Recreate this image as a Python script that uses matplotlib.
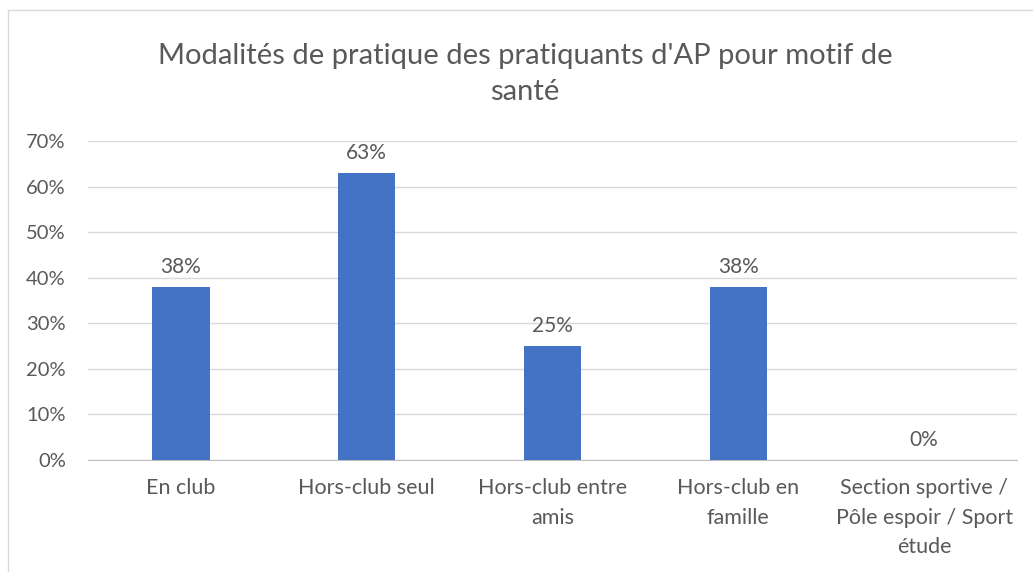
import matplotlib.pyplot as plt
from matplotlib.patches import Rectangle
from matplotlib.ticker import PercentFormatter

categories = ["En club", "Hors-club seul", "Hors-club entre\namis", "Hors-club en\nfamille",
              "Section sportive /\nPôle espoir / Sport\nétude"]
values = [38, 63, 25, 38, 0]
yticks = [0, 10, 20, 30, 40, 50, 60, 70]

plt.rcParams['font.family'] = ['Lato', 'DejaVu Sans']
txt = '#595959'

fig = plt.figure(figsize=(10.33, 5.72), dpi=100)
ax = fig.add_axes([88 / 1033, 1 - 460 / 572, (1017 - 88) / 1033, (460 - 141) / 572])

x = range(len(categories))
ax.bar(x, values, width=0.31, color='#4472C4', zorder=3)
for i, v in zip(x, values):
    ax.annotate(f"{v}%", (i, v), xytext=(0, 7), textcoords='offset points',
                ha='center', va='bottom', fontsize=15, color=txt)

ax.set_xlim(-0.5, len(categories) - 0.5)
ax.set_ylim(0, 70)
ax.set_yticks(yticks)
ax.yaxis.set_major_formatter(PercentFormatter(decimals=0))
ax.set_xticks(list(x))
ax.set_xticklabels(categories, fontsize=15.5, color=txt, linespacing=1.6)
ax.tick_params(axis='y', labelsize=14.5, labelcolor=txt, length=0, pad=16)
ax.tick_params(axis='x', length=0, pad=13)
ax.grid(axis='y', color='#D9D9D9', linewidth=1, zorder=0)
for s in ['top', 'right', 'left']:
    ax.spines[s].set_visible(False)
ax.spines['bottom'].set_color('#BFBFBF')

fig.text(525 / 1033, 1 - 74 / 572, "Modalités de pratique des pratiquants d'AP pour motif de\nsanté",
         ha='center', va='center', fontsize=21, color=txt, linespacing=1.45)

# border of the chart area
fig.patches.append(Rectangle((8 / 1033, -0.1), 1.2, 1 - 10 / 572 + 0.1, transform=fig.transFigure,
                             fill=False, edgecolor='#D9D9D9', linewidth=1))

fig.savefig('out.png', dpi=100)
